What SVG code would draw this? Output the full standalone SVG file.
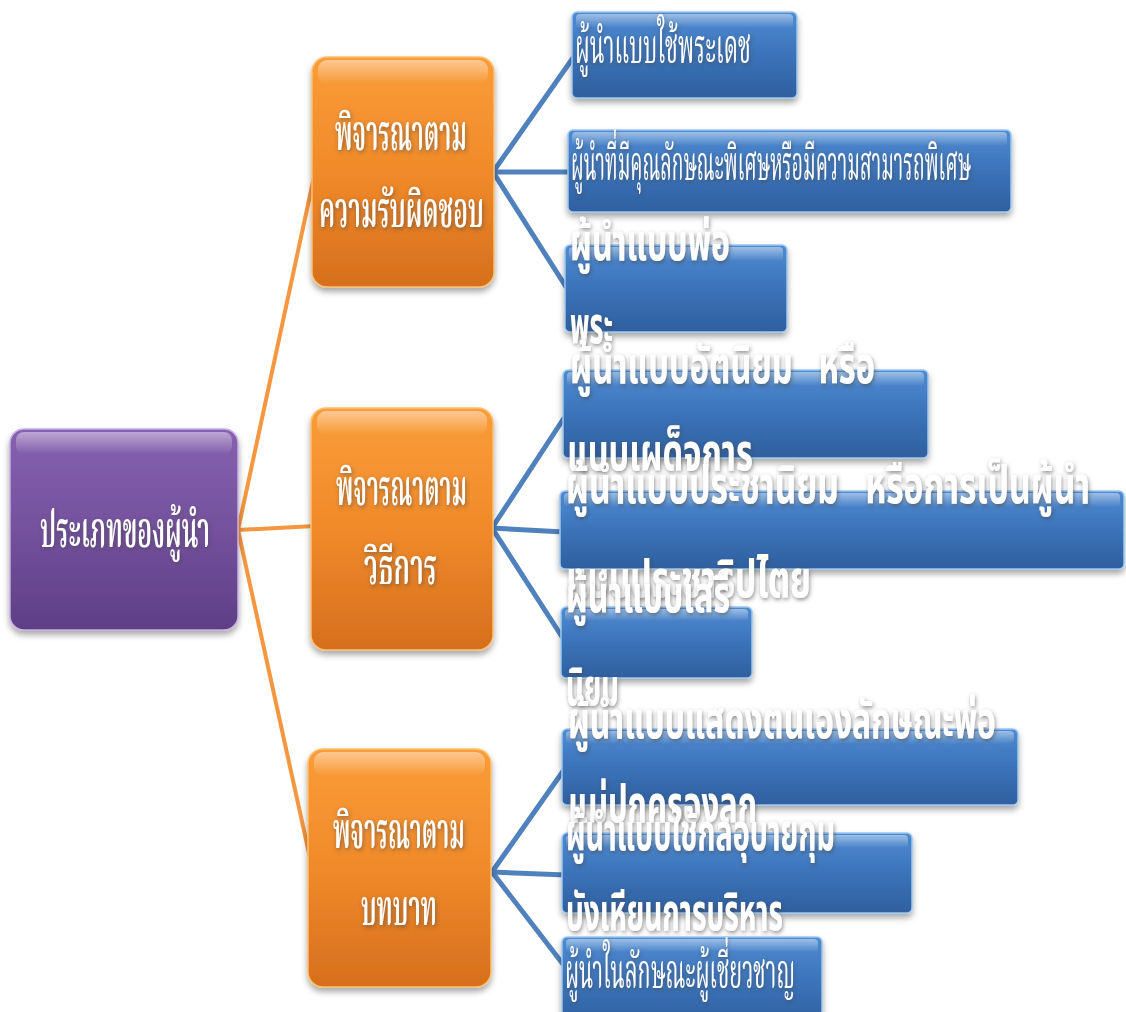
<svg xmlns="http://www.w3.org/2000/svg" width="1126" height="1012" viewBox="0 0 1126 1012">
<defs>
<linearGradient id="gBlue" x1="0" y1="0" x2="0" y2="1">
<stop offset="0" stop-color="#4f8bd2"/><stop offset="0.5" stop-color="#3b73b9"/><stop offset="1" stop-color="#2f5f9f"/>
</linearGradient>
<linearGradient id="gOrange" x1="0" y1="0" x2="0" y2="1">
<stop offset="0" stop-color="#fa9c38"/><stop offset="0.5" stop-color="#f08a2a"/><stop offset="1" stop-color="#d66f1d"/>
</linearGradient>
<linearGradient id="gPurple" x1="0" y1="0" x2="0" y2="1">
<stop offset="0" stop-color="#8661b0"/><stop offset="0.5" stop-color="#74519e"/><stop offset="1" stop-color="#5e3f86"/>
</linearGradient>
<linearGradient id="gHi" x1="0" y1="0" x2="0" y2="1">
<stop offset="0" stop-color="#ffffff" stop-opacity="0.45"/><stop offset="1" stop-color="#ffffff" stop-opacity="0"/>
</linearGradient>
<filter id="shadow" x="-10%" y="-10%" width="120%" height="130%">
<feDropShadow dx="0" dy="4" stdDeviation="3" flood-color="#000" flood-opacity="0.35"/>
</filter>
<filter id="glow" x="-5%" y="-30%" width="110%" height="160%">
<feDropShadow dx="1" dy="2" stdDeviation="2" flood-color="#444" flood-opacity="0.6"/>
</filter>
</defs>
<style>
.blue{fill:url(#gBlue);stroke:#9cc8ef;stroke-width:1.5;filter:url(#shadow)}
.orange{fill:url(#gOrange);stroke:#fcc070;stroke-width:1.5;filter:url(#shadow)}
.purple{fill:url(#gPurple);stroke:#c6b0e2;stroke-width:1.5;filter:url(#shadow)}
.hi{fill:url(#gHi)}
.t{fill:#ffffff;font-family:"Noto Serif Thai","Noto Sans Thai","Loma","Garuda","Noto Sans",sans-serif;font-size:48px;white-space:pre;filter:url(#glow)}
.o{fill:#ffffff;font-family:"Noto Serif Thai","Noto Sans Thai","Loma","Garuda","Noto Sans",sans-serif;font-size:50px;font-weight:600;white-space:pre;filter:url(#glow)}
.b{fill:#ffffff;font-family:"Noto Sans Thai","Loma","Garuda","Noto Sans",sans-serif;font-weight:bold;font-size:52px;white-space:pre;filter:url(#glow)}
.oc{stroke:#f59640;stroke-width:4;fill:none}
.bc{stroke:#4f81bd;stroke-width:5;fill:none}
</style>
<rect width="1126" height="1012" fill="#ffffff"/>
<g id="connectors">
<line class="oc" x1="238" y1="530" x2="315" y2="172"/>
<line class="oc" x1="238" y1="530" x2="315" y2="526"/>
<line class="oc" x1="238" y1="530" x2="312" y2="867"/>
<line class="bc" x1="493" y1="172" x2="575" y2="55"/>
<line class="bc" x1="493" y1="172" x2="572" y2="172"/>
<line class="bc" x1="493" y1="172" x2="568" y2="290"/>
<line class="bc" x1="492" y1="528" x2="566" y2="415"/>
<line class="bc" x1="492" y1="528" x2="564" y2="532"/>
<line class="bc" x1="492" y1="528" x2="566" y2="643"/>
<line class="bc" x1="492" y1="872" x2="566" y2="767"/>
<line class="bc" x1="492" y1="872" x2="566" y2="875"/>
<line class="bc" x1="492" y1="872" x2="566" y2="968"/>
</g>
<g id="root">
<rect class="purple" x="10" y="429" width="228" height="201" rx="14"/>
<rect class="hi" x="16" y="432" width="216" height="22" rx="8"/>
<text class="o" x="40" y="547" textLength="170" lengthAdjust="spacingAndGlyphs">ประเภทของผู้นำ</text>
</g>
<g id="cat1">
<rect class="orange" x="312" y="57" width="182" height="230" rx="15"/>
<rect class="hi" x="318" y="60" width="170" height="24" rx="9"/>
<text class="o" x="335" y="150" textLength="132" lengthAdjust="spacingAndGlyphs">พิจารณาตาม</text>
<text class="o" x="319" y="227" textLength="165" lengthAdjust="spacingAndGlyphs">ความรับผิดชอบ</text>
</g>
<g id="cat2">
<rect class="orange" x="311" y="408" width="182" height="242" rx="15"/>
<rect class="hi" x="317" y="411" width="170" height="24" rx="9"/>
<text class="o" x="336" y="505" textLength="131" lengthAdjust="spacingAndGlyphs">พิจารณาตาม</text>
<text class="o" x="364" y="584" textLength="73" lengthAdjust="spacingAndGlyphs">วิธีการ</text>
</g>
<g id="cat3">
<rect class="orange" x="308" y="749" width="183" height="238" rx="15"/>
<rect class="hi" x="314" y="752" width="171" height="24" rx="9"/>
<text class="o" x="333" y="848" textLength="132" lengthAdjust="spacingAndGlyphs">พิจารณาตาม</text>
<text class="o" x="361" y="925" textLength="76" lengthAdjust="spacingAndGlyphs">บทบาท</text>
</g>
<g id="n1">
<rect class="blue" x="572" y="12" width="225" height="86" rx="5"/>
<rect class="hi" x="576" y="14" width="217" height="14" rx="4"/>
<text class="t" x="575" y="63" textLength="176" lengthAdjust="spacingAndGlyphs">ผู้นำแบบใช้พระเดช</text>
</g>
<g id="n2">
<rect class="blue" x="568" y="130" width="443" height="82" rx="5"/>
<rect class="hi" x="572" y="132" width="435" height="14" rx="4"/>
<text class="t" x="571" y="180" textLength="400" lengthAdjust="spacingAndGlyphs">ผู้นำที่มีคุณลักษณะพิเศษหรือมีความสามารถพิเศษ</text>
</g>
<g id="n3">
<rect class="blue" x="565" y="245" width="222" height="87" rx="5"/>
<rect class="hi" x="569" y="247" width="214" height="14" rx="4"/>
<text class="b" x="570" y="260" textLength="160" lengthAdjust="spacingAndGlyphs">ผู้นำแบบพ่อ</text>
<text class="b" x="570" y="343" textLength="43" lengthAdjust="spacingAndGlyphs">พระ</text>
</g>
<g id="n4">
<rect class="blue" x="563" y="370" width="365" height="88" rx="5"/>
<rect class="hi" x="567" y="372" width="357" height="14" rx="4"/>
<text class="b" x="570" y="383" textLength="305" lengthAdjust="spacingAndGlyphs">ผู้นำแบบอัตนิยม   หรือ</text>
<text class="b" x="567" y="470" textLength="186" lengthAdjust="spacingAndGlyphs">แบบเผด็จการ</text>
</g>
<g id="n5">
<rect class="blue" x="560" y="491" width="564" height="78" rx="5"/>
<rect class="hi" x="564" y="493" width="556" height="14" rx="4"/>
<text class="b" x="566" y="503" textLength="524" lengthAdjust="spacingAndGlyphs">ผู้นำแบบประชานิยม   หรือการเป็นผู้นำ</text>
<text class="b" x="566" y="597" textLength="245" lengthAdjust="spacingAndGlyphs">แบบประชาธิปไตย</text>
</g>
<g id="n6">
<rect class="blue" x="561" y="607" width="191" height="71" rx="5"/>
<rect class="hi" x="565" y="609" width="183" height="12" rx="4"/>
<text class="b" x="566" y="612" textLength="164" lengthAdjust="spacingAndGlyphs">ผู้นำแบบเสรี</text>
<text class="b" x="566" y="705" textLength="53" lengthAdjust="spacingAndGlyphs">นิยม</text>
</g>
<g id="n7">
<rect class="blue" x="562" y="729" width="456" height="76" rx="5"/>
<rect class="hi" x="566" y="731" width="448" height="13" rx="4"/>
<text class="b" x="568" y="738" textLength="428" lengthAdjust="spacingAndGlyphs">ผู้นำแบบแสดงตนเองลักษณะพ่อ</text>
<text class="b" x="568" y="822" textLength="189" lengthAdjust="spacingAndGlyphs">แม่ปกครองลูก</text>
</g>
<g id="n8">
<rect class="blue" x="562" y="833" width="350" height="80" rx="5"/>
<rect class="hi" x="566" y="835" width="342" height="13" rx="4"/>
<text class="b" x="566" y="850" textLength="269" lengthAdjust="spacingAndGlyphs">ผู้นำแบบใช้กลอุบายกุม</text>
<text class="b" x="566" y="930" textLength="217" lengthAdjust="spacingAndGlyphs">บังเหียนการบริหาร</text>
</g>
<g id="n9">
<rect class="blue" x="562" y="937" width="260" height="90" rx="5"/>
<rect class="hi" x="566" y="939" width="252" height="13" rx="4"/>
<text class="t" x="565" y="988" textLength="230" lengthAdjust="spacingAndGlyphs">ผู้นำในลักษณะผู้เชี่ยวชาญ</text>
</g>
</svg>
